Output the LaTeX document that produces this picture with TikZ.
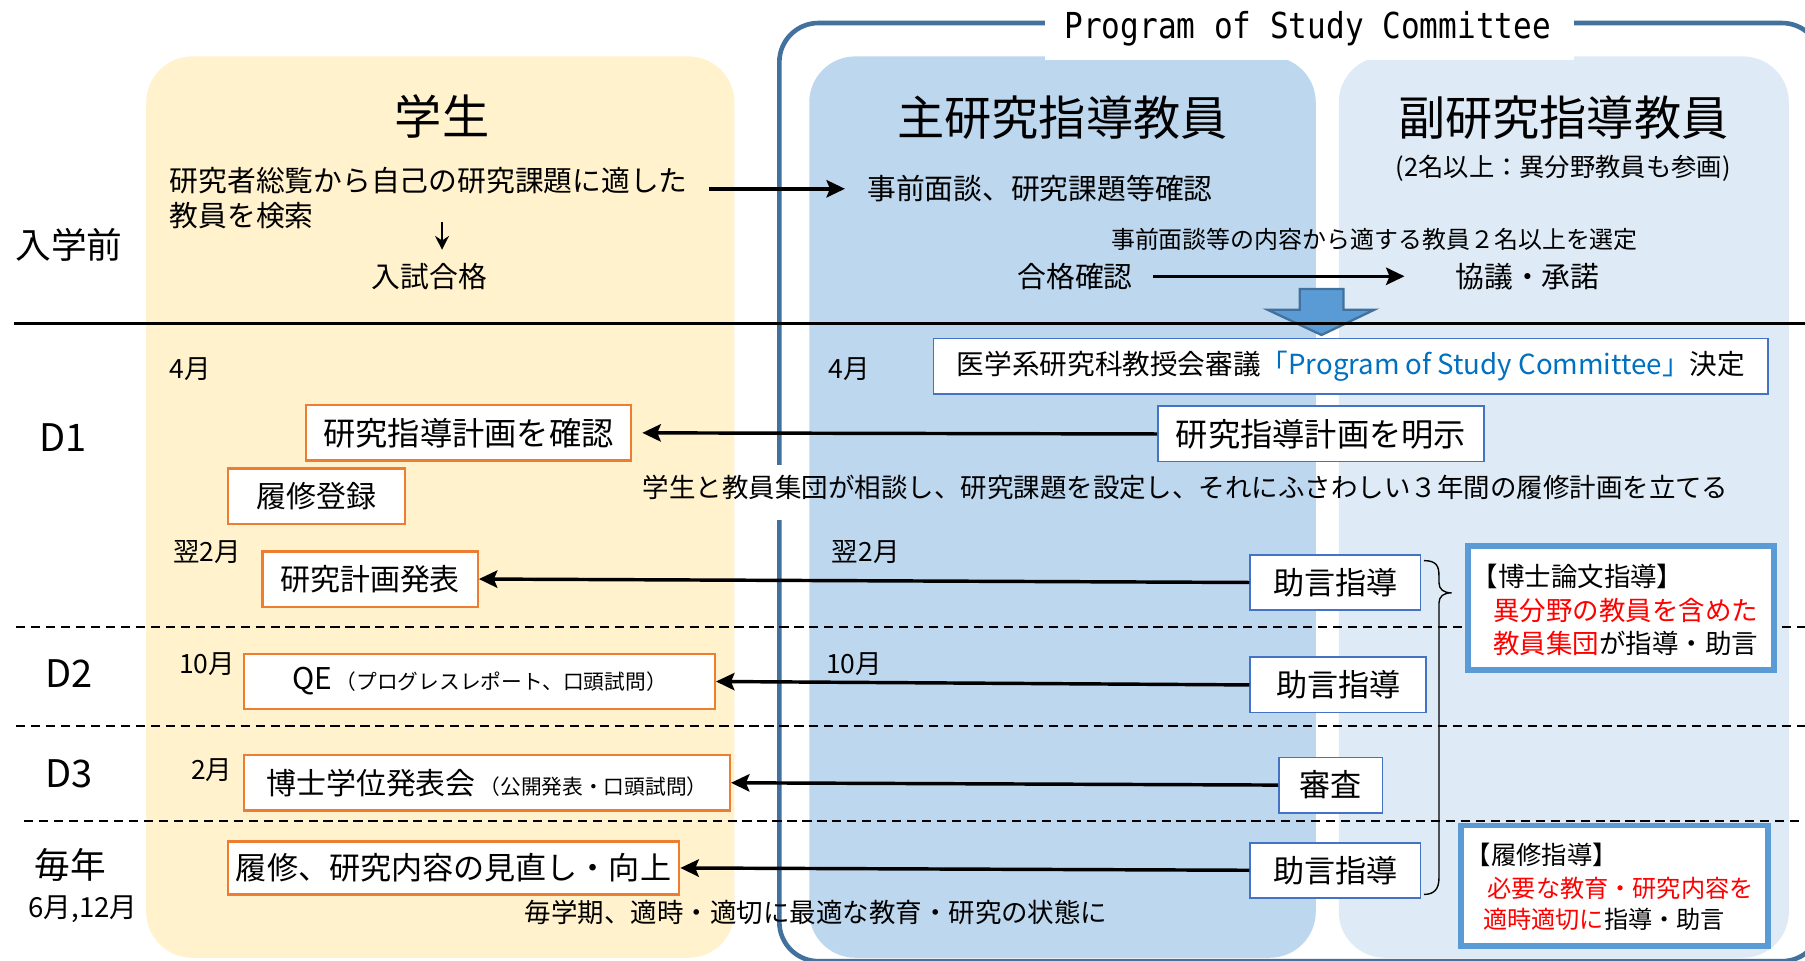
\documentclass[tikz,border=0pt]{standalone}
\usepackage{fontspec}
\setmainfont{Noto Sans CJK JP}
\newfontfamily\monofont{DejaVu Sans Mono}
\usetikzlibrary{arrows.meta}
\newcommand{\fsz}[1]{\fontsize{#1}{#1}\selectfont}
\definecolor{yellowP}{HTML}{FFF2CC}
\definecolor{blueD}{HTML}{BDD7EE}
\definecolor{blueL}{HTML}{DEEBF7}
\definecolor{frameC}{HTML}{41719C}
\definecolor{orangeC}{HTML}{ED7D31}
\definecolor{boxblue}{HTML}{4472C4}
\definecolor{thickblue}{HTML}{5B9BD5}
\definecolor{arrowfill}{HTML}{5B9BD5}
\definecolor{textblue}{HTML}{0070C0}
\tikzset{
  txt/.style={inner sep=0pt, anchor=center},
  obox/.style={draw=orangeC, line width=1pt, fill=white, inner sep=0pt, minimum height=24pt},
  bbox/.style={draw=boxblue, line width=0.75pt, fill=white, inner sep=0pt, minimum height=24pt},
  tbox/.style={draw=thickblue, line width=2.5pt, fill=white, inner sep=0pt},
  arr/.style={line width=1.5pt, -{Stealth[length=8pt,width=7.5pt,inset=1.5pt]}},
  sepdash/.style={line width=0.8pt, dash pattern=on 4pt off 2.5pt},
  panel/.style={rounded corners=20pt},
}
\begin{document}
\begin{tikzpicture}[x=0.5pt,y=-0.5pt]
\useasboundingbox (0,0) rectangle (1568,834);
\clip (0,0) rectangle (1568,834);
\fill[white] (0,0) rectangle (1568,834);
% panels
\fill[yellowP, panel] (127,49) rectangle (638,832);
\fill[blueD, panel] (703,49) rectangle (1143,832);
\fill[blueL, panel] (1163,49) rectangle (1554,832);
% committee frame
\draw[frameC, line width=2pt, rounded corners=17pt] (677,20) rectangle (1582,835);
\fill[white] (908,0) rectangle (1367,52);
\node[txt, font=\monofont\fsz{13.5}] (title) at (1136,25) {\scalebox{1}[1.15]{Program of Study Committee}};
\fill[white] (668,404) rectangle (690,452);
% block arrow
\draw[fill=arrowfill, draw=frameC, line width=1pt] (1129,251) -- (1167,251) -- (1167,269) -- (1194,269) -- (1148,291) -- (1101,269) -- (1129,269) -- cycle;
% separators
\draw[line width=1pt] (12,281) -- (1568,281);
\draw[sepdash] (14,545) -- (1568,545);
\draw[sepdash] (14,631) -- (1568,631);
\draw[sepdash] (21,713) -- (1568,713);
% headers
\node[txt, font=\fsz{20.5}] (hs) at (384,101) {学生};
\node[txt, font=\fsz{20.5}] (hm) at (923,102) {主研究指導教員};
\node[txt, font=\fsz{20.5}] (hv) at (1358,102) {副研究指導教員};
\node[txt, font=\fsz{11}] (hvn) at (1358,146) {(2名以上：異分野教員も参画)};
% before entry
\node[txt, anchor=west, font=\fsz{12.5}] (s1) at (147,157) {研究者総覧から自己の研究課題に適した};
\node[txt, anchor=west, font=\fsz{12.5}] (s2) at (147,187) {教員を検索};
\node[txt, anchor=west, font=\fsz{12.5}] (jizen) at (753,164) {事前面談、研究課題等確認};
\draw[arr, shorten <=9pt, shorten >=9.5pt] (s1.east |- jizen.west) -- (jizen.west);
\coordinate (d1) at (384,193);
\coordinate (d2) at (384,217);
\draw[line width=1.2pt, -{Stealth[length=6pt,width=6pt]}] (d1) -- (d2);
\node[txt, font=\fsz{12.5}] (nyushi) at (373,240) {入試合格};
\node[txt, font=\fsz{15.5}] (pre) at (60,213) {入学前};
\node[txt, font=\fsz{10.4}] (sentei) at (1194,208) {事前面談等の内容から適する教員２名以上を選定};
\node[txt, font=\fsz{12.5}] (goukaku) at (934,240) {合格確認};
\node[txt, font=\fsz{12.5}] (kyogi) at (1327,240) {協議・承諾};
\draw[arr, shorten <=8.5pt, shorten >=22pt] (goukaku.east |- kyogi.west) -- (kyogi.west);
% row labels
\node[txt, font=\fsz{16.5}] (rd1) at (55,380) {D1};
\node[txt, font=\fsz{16.5}] (rd2) at (60,585) {D2};
\node[txt, font=\fsz{16.5}] (rd3) at (60,672) {D3};
\node[txt, font=\fsz{15.5}] (rmy) at (61,751) {毎年};
\node[txt, font=\fsz{12}] (rmy2) at (72,790) {6月,12月};
% months
\node[txt, font=\fsz{11.5}] (m1) at (165,321) {4月};
\node[txt, font=\fsz{11.5}] (m2) at (738,321) {4月};
\node[txt, font=\fsz{11.5}] (m3) at (180,480) {翌2月};
\node[txt, font=\fsz{11.5}] (m4) at (752,480) {翌2月};
\node[txt, font=\fsz{11.5}] (m5) at (180,577) {10月};
\node[txt, font=\fsz{11.5}] (m6) at (742,577) {10月};
\node[txt, font=\fsz{11.5}] (m7) at (184,669) {2月};
% student boxes
\node[obox, minimum width=141pt, font=\fsz{14}] (kakunin) at (407,376) {研究指導計画を確認};
\node[obox, minimum width=77pt, font=\fsz{13}] (rishu) at (275,431) {履修登録};
\node[obox, minimum width=93.5pt, font=\fsz{13}] (happyo) at (321.5,503) {研究計画発表};
\node[obox, minimum width=204.5pt] (qe) at (416.5,592) {{\fsz{13}QE}\,{\fsz{9}（プログレスレポート、口頭試問）}};
\node[obox, minimum width=211pt] (hakase) at (423,680) {{\fsz{13}博士学位発表会}\,{\fsz{9}（公開発表・口頭試問）}};
\node[obox, minimum width=196pt, minimum height=23pt, font=\fsz{13.5}] (minaoshi) at (394,754) {履修、研究内容の見直し・向上};
% faculty boxes
\node[bbox, minimum width=362.5pt, font=\fsz{12}] (igaku) at (1173.5,318) {医学系研究科教授会審議\textcolor{textblue}{「Program of Study Committee」}決定};
\node[bbox, minimum width=141.5pt, font=\fsz{14}] (meiji) at (1147.5,377) {研究指導計画を明示};
\node[bbox, minimum width=74pt, font=\fsz{13.5}] (jogen1) at (1160,506) {助言指導};
\node[bbox, minimum width=76.5pt, font=\fsz{13.5}] (jogen2) at (1162.5,595) {助言指導};
\node[bbox, minimum width=45pt, font=\fsz{13.5}] (shinsa) at (1156,682) {審査};
\node[bbox, minimum width=74pt, font=\fsz{13.5}] (jogen3) at (1160,756) {助言指導};
% arrows
\draw[arr, shorten >=4.5pt] (meiji.west) -- (kakunin.east);
\draw[arr] (jogen1.west) -- (happyo.east);
\draw[arr] (jogen2.west) -- (qe.east);
\draw[arr] (shinsa.west) -- (hakase.east);
\draw[arr] (jogen3.west) -- (minaoshi.east);
% free texts
\node[txt, font=\fsz{11.5}] (sodan) at (1030,423) {学生と教員集団が相談し、研究課題を設定し、それにふさわしい３年間の履修計画を立てる};
\node[txt, font=\fsz{11.5}] (maigakki) at (709,793) {毎学期、適時・適切に最適な教育・研究の状態に};
% brace
\draw[line width=0.6pt] (1237,487) .. controls (1248,487) and (1250,492) .. (1250,500) -- (1250,506) .. controls (1250,512) and (1254,515) .. (1261,515) .. controls (1254,515) and (1250,518) .. (1250,524) -- (1250,763) .. controls (1250,772) and (1246,777) .. (1237,777);
% thick boxes
\node[tbox, minimum width=133pt, minimum height=54pt] (hakushi) at (1408,528) {};
\node[txt, anchor=west, font=\fsz{11.5}] (hk1) at (1278,501) {【博士論文指導】};
\node[txt, anchor=west, font=\fsz{11.5}] (hk2) at (1297,530) {\textcolor{red}{異分野の教員を含めた}};
\node[txt, anchor=west, font=\fsz{11.5}] (hk3) at (1297,559) {\textcolor{red}{教員集団}が指導・助言};
\node[tbox, minimum width=133.5pt, minimum height=52.5pt] (rishuu) at (1402.5,769.5) {};
\node[txt, anchor=west, font=\fsz{11}] (rs1) at (1273,743) {【履修指導】};
\node[txt, anchor=west, font=\fsz{10.5}] (rs2) at (1292,772) {\textcolor{red}{必要な教育・研究内容を}};
\node[txt, anchor=west, font=\fsz{10.5}] (rs3) at (1288,799) {\textcolor{red}{適時適切に}指導・助言};
\end{tikzpicture}
\end{document}
